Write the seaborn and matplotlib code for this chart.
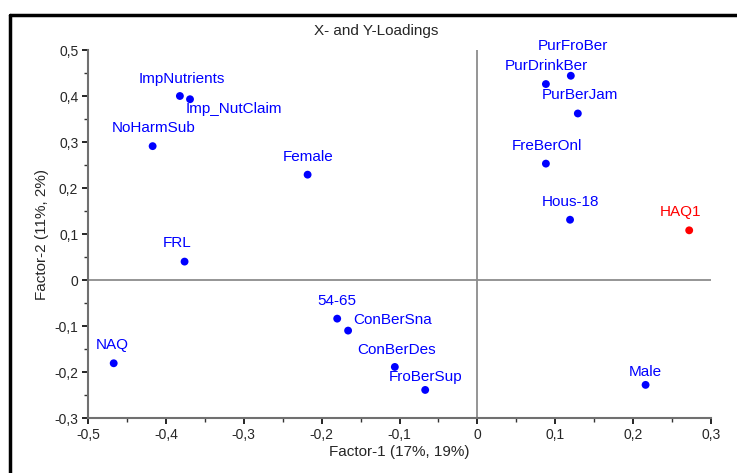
import matplotlib
matplotlib.use("Agg")
import matplotlib.pyplot as plt
import pandas as pd
import seaborn as sns
from matplotlib.lines import Line2D
from matplotlib.ticker import MultipleLocator, FuncFormatter

# loadings
labels = ["ImpNutrients", "Imp_NutClaim", "NoHarmSub", "Female", "FRL", "NAQ",
          "54-65", "ConBerSna", "ConBerDes", "FroBerSup", "Male",
          "PurFroBer", "PurDrinkBer", "PurBerJam", "FreBerOnl", "Hous-18", "HAQ1"]
factor1 = [-0.382, -0.369, -0.417, -0.218, -0.376, -0.467,
           -0.180, -0.166, -0.106, -0.067, 0.216,
           0.120, 0.088, 0.129, 0.088, 0.119, 0.272]
factor2 = [0.400, 0.393, 0.291, 0.229, 0.040, -0.181,
           -0.084, -0.110, -0.189, -0.239, -0.228,
           0.444, 0.426, 0.362, 0.253, 0.131, 0.108]
kind = ["X"] * 16 + ["Y"]

df = pd.DataFrame({"label": labels, "f1": factor1, "f2": factor2, "kind": kind})

sns.set_style("white")
plt.rcParams["font.family"] = ["Liberation Sans", "DejaVu Sans"]

fig = plt.figure(figsize=(7.37, 4.73), dpi=100)
ax = fig.add_axes([88 / 737, 55 / 473, 623 / 737, 368 / 473])

colors = {"X": "#0000ff", "Y": "#ff0000"}
sns.scatterplot(data=df, x="f1", y="f2", hue="kind", palette=colors,
                s=32, linewidth=0, legend=False, ax=ax, zorder=3)

# label offsets in pixels (dx, dy, ha)
offs = {
    "ImpNutrients": (2, 17, "center"), "Imp_NutClaim": (-4, -10, "left"),
    "NoHarmSub": (1, 18, "center"), "Female": (1, 18, "center"),
    "FRL": (-7, 19, "center"), "NAQ": (-1, 18, "center"),
    "54-65": (0, 18, "center"), "ConBerSna": (5, 11, "left"),
    "ConBerDes": (2, 17, "center"), "FroBerSup": (0, 13, "center"),
    "Male": (0, 13, "center"), "PurFroBer": (2, 30, "center"),
    "PurDrinkBer": (0, 18, "center"), "PurBerJam": (2, 18, "center"),
    "FreBerOnl": (1, 18, "center"), "Hous-18": (0, 18, "center"),
    "HAQ1": (-9, 18, "center"),
}
for _, r in df.iterrows():
    dx, dy, ha = offs[r.label]
    ax.annotate(r.label, (r.f1, r.f2), xytext=(dx * 0.72, dy * 0.72),
                textcoords="offset points", ha=ha, va="center",
                fontsize=11, color=colors[r.kind], zorder=4)

ax.axhline(0, color="#8c8c8c", lw=1.3, zorder=1)
ax.axvline(0, color="#8c8c8c", lw=1.3, zorder=1)

ax.set_xlim(-0.5, 0.3)
ax.set_ylim(-0.3, 0.5)
ax.xaxis.set_major_locator(MultipleLocator(0.1))
ax.xaxis.set_minor_locator(MultipleLocator(0.05))
ax.yaxis.set_major_locator(MultipleLocator(0.1))
ax.yaxis.set_minor_locator(MultipleLocator(0.05))


def fmt(v, pos):
    if abs(v) < 1e-9:
        return "0"
    return f"{v:.1f}".replace(".", ",")


ax.xaxis.set_major_formatter(FuncFormatter(fmt))
ax.yaxis.set_major_formatter(FuncFormatter(fmt))
ax.tick_params(which="major", direction="out", length=4, width=1.2,
               color="black", labelsize=10, pad=3, bottom=True, left=True)
ax.tick_params(which="minor", direction="out", length=3, width=1,
               color="#333333", bottom=True, left=True)

for side in ["top", "right"]:
    ax.spines[side].set_visible(False)
for side in ["left", "bottom"]:
    ax.spines[side].set_color("#707070")
    ax.spines[side].set_linewidth(1.5)

ax.set_xlabel("Factor-1 (17%, 19%)", fontsize=11, labelpad=2)
ax.set_ylabel("Factor-2 (11%, 2%)", fontsize=11, labelpad=4)

fig.text(376 / 737, 1 - 31 / 473, "X- and Y-Loadings", ha="center", va="center",
         fontsize=11)

# outer frame
fig.add_artist(Line2D([10 / 737, 1], [1 - 15 / 473, 1 - 15 / 473],
                      transform=fig.transFigure, color="black", lw=2.5))
fig.add_artist(Line2D([10 / 737, 10 / 737], [0, 1 - 15 / 473],
                      transform=fig.transFigure, color="black", lw=2.5))

fig.savefig("out.png", dpi=100)
